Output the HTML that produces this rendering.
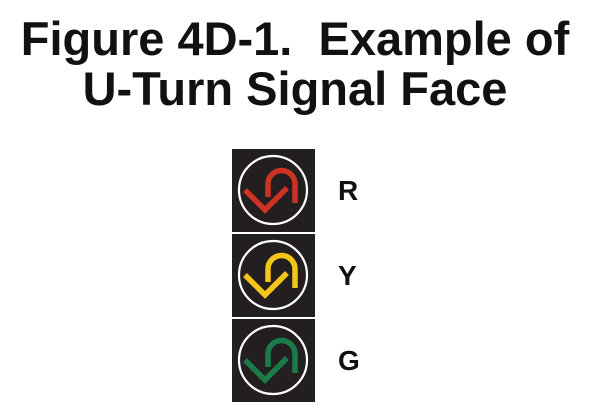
<!DOCTYPE html>
<html><head><style>
body{margin:0;width:590px;height:416px;background:#fff;overflow:hidden;font-family:"Liberation Sans",sans-serif}
.t{position:absolute;left:0;width:590px;text-align:center;font-weight:bold;font-size:47px;line-height:47px;color:#111;white-space:nowrap}
</style></head><body>
<div class="t" style="top:15px">Figure 4D-1.&nbsp; Example of</div>
<div class="t" style="top:65px">U-Turn Signal Face</div>
<svg width="590" height="416" style="position:absolute;left:0;top:0">
<g>
<rect x="232" y="149" width="83" height="83" fill="#231f20"/>
<circle cx="273" cy="190" r="34" fill="none" stroke="#fff" stroke-width="2.2"/>
<path d="M245,190 L265,210 L287,188 M268,197 L268,184 A13.5,13.5 0 0 1 295,184 L295,203" fill="none" stroke="#cc3322" stroke-width="5.5"/>
</g>
<g>
<rect x="232" y="234" width="83" height="83" fill="#231f20"/>
<circle cx="273" cy="275" r="34" fill="none" stroke="#fff" stroke-width="2.2"/>
<path d="M245,275 L265,295 L287,273 M268,282 L268,269 A13.5,13.5 0 0 1 295,269 L295,288" fill="none" stroke="#f5c518" stroke-width="5.5"/>
</g>
<g>
<rect x="232" y="319" width="83" height="83" fill="#231f20"/>
<circle cx="273" cy="360" r="34" fill="none" stroke="#fff" stroke-width="2.2"/>
<path d="M245,360 L265,380 L287,358 M268,367 L268,354 A13.5,13.5 0 0 1 295,354 L295,373" fill="none" stroke="#1a7a4a" stroke-width="5.5"/>
</g>
<text x="338" y="200" font-family="Liberation Sans" font-weight="bold" font-size="28" fill="#111">R</text>
<text x="338" y="285" font-family="Liberation Sans" font-weight="bold" font-size="28" fill="#111">Y</text>
<text x="338" y="370" font-family="Liberation Sans" font-weight="bold" font-size="28" fill="#111">G</text>
</svg>
</body></html>
